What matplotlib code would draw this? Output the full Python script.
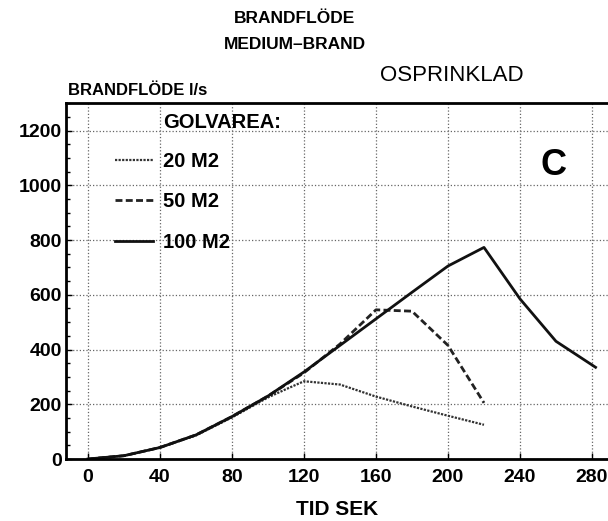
import matplotlib.pyplot as plt
from matplotlib.ticker import MultipleLocator

plt.rcParams["font.family"] = ["Liberation Sans", "DejaVu Sans"]

# time (s) and flow (l/s) for each floor area
t_20 = [0, 20, 40, 60, 80, 100, 110, 120, 140, 160, 180, 200, 220]
flow_20 = [0, 12, 42, 86, 152, 225, 255, 284, 272, 228, 192, 158, 125]

t_50 = [0, 20, 40, 60, 80, 100, 120, 140, 160, 180, 200, 220]
flow_50 = [0, 12, 42, 88, 155, 230, 315, 420, 545, 540, 415, 205]

t_100 = [0, 20, 40, 60, 80, 100, 120, 140, 160, 180, 200, 220, 240, 260, 282]
flow_100 = [0, 12, 42, 88, 155, 230, 318, 415, 512, 609, 705, 773, 585, 430, 335]

labels = ["20 M2", "50 M2", "100 M2"]
x_ticks = [0, 40, 80, 120, 160, 200, 240, 280]
y_ticks = [0, 200, 400, 600, 800, 1000, 1200]

fig = plt.figure(figsize=(6.08, 5.21), dpi=100)
ax = fig.add_axes([0.1086, 0.119, 0.8914, 0.683])

l20, = ax.plot(t_20, flow_20, color="#333333", lw=1.6, linestyle=(0, (1, 0.6)))
l50, = ax.plot(t_50, flow_50, color="#222222", lw=2.0, linestyle=(0, (2.5, 1.2)))
l100, = ax.plot(t_100, flow_100, color="#111111", lw=2.0)

ax.set_xlim(-12.2, 288.9)
ax.set_ylim(0, 1300)
ax.set_xticks(x_ticks)
ax.set_yticks(y_ticks)
ax.yaxis.set_minor_locator(MultipleLocator(50))
ax.tick_params(axis="both", direction="in", labelsize=14, length=4, width=1)
ax.tick_params(axis="y", which="minor", direction="in", length=3, width=1)
ax.tick_params(axis="y", pad=3)
ax.tick_params(axis="x", pad=7)
for lab in ax.get_xticklabels() + ax.get_yticklabels():
    lab.set_fontweight("bold")

ax.grid(True, which="major", color="#666666", linestyle=":", linewidth=0.9)
for side in ["left", "bottom", "top"]:
    ax.spines[side].set_linewidth(2)
ax.spines["right"].set_visible(False)

ax.set_xlabel("TID SEK", fontsize=15, fontweight="bold", labelpad=10)

ax.text(0.179, 0.945, "GOLVAREA:", transform=ax.transAxes, fontsize=14.5,
        ha="left", va="center", fontweight="bold")
leg = ax.legend([l20, l50, l100], labels, loc="upper left",
                bbox_to_anchor=(0.090, 0.862), frameon=False,
                prop={"size": 14.5, "weight": "bold"},
                borderpad=0, borderaxespad=0, handlelength=1.9,
                handletextpad=0.5, labelspacing=1.05)

ax.text(0.90, 0.826, "C", transform=ax.transAxes, fontsize=26,
        fontweight="bold", ha="center", va="center")

fig.text(0.484, 0.965, "BRANDFLÖDE", fontsize=12.5, ha="center",
         va="center", fontweight="bold")
fig.text(0.485, 0.914, "MEDIUM\u2013BRAND", fontsize=12.5, ha="center",
         va="center", fontweight="bold")
fig.text(0.743, 0.856, "OSPRINKLAD", fontsize=16, ha="center", va="center")
fig.text(0.112, 0.827, "BRANDFLÖDE l/s", fontsize=12, ha="left",
         va="center", fontweight="bold")

fig.savefig("out.png", dpi=100)
